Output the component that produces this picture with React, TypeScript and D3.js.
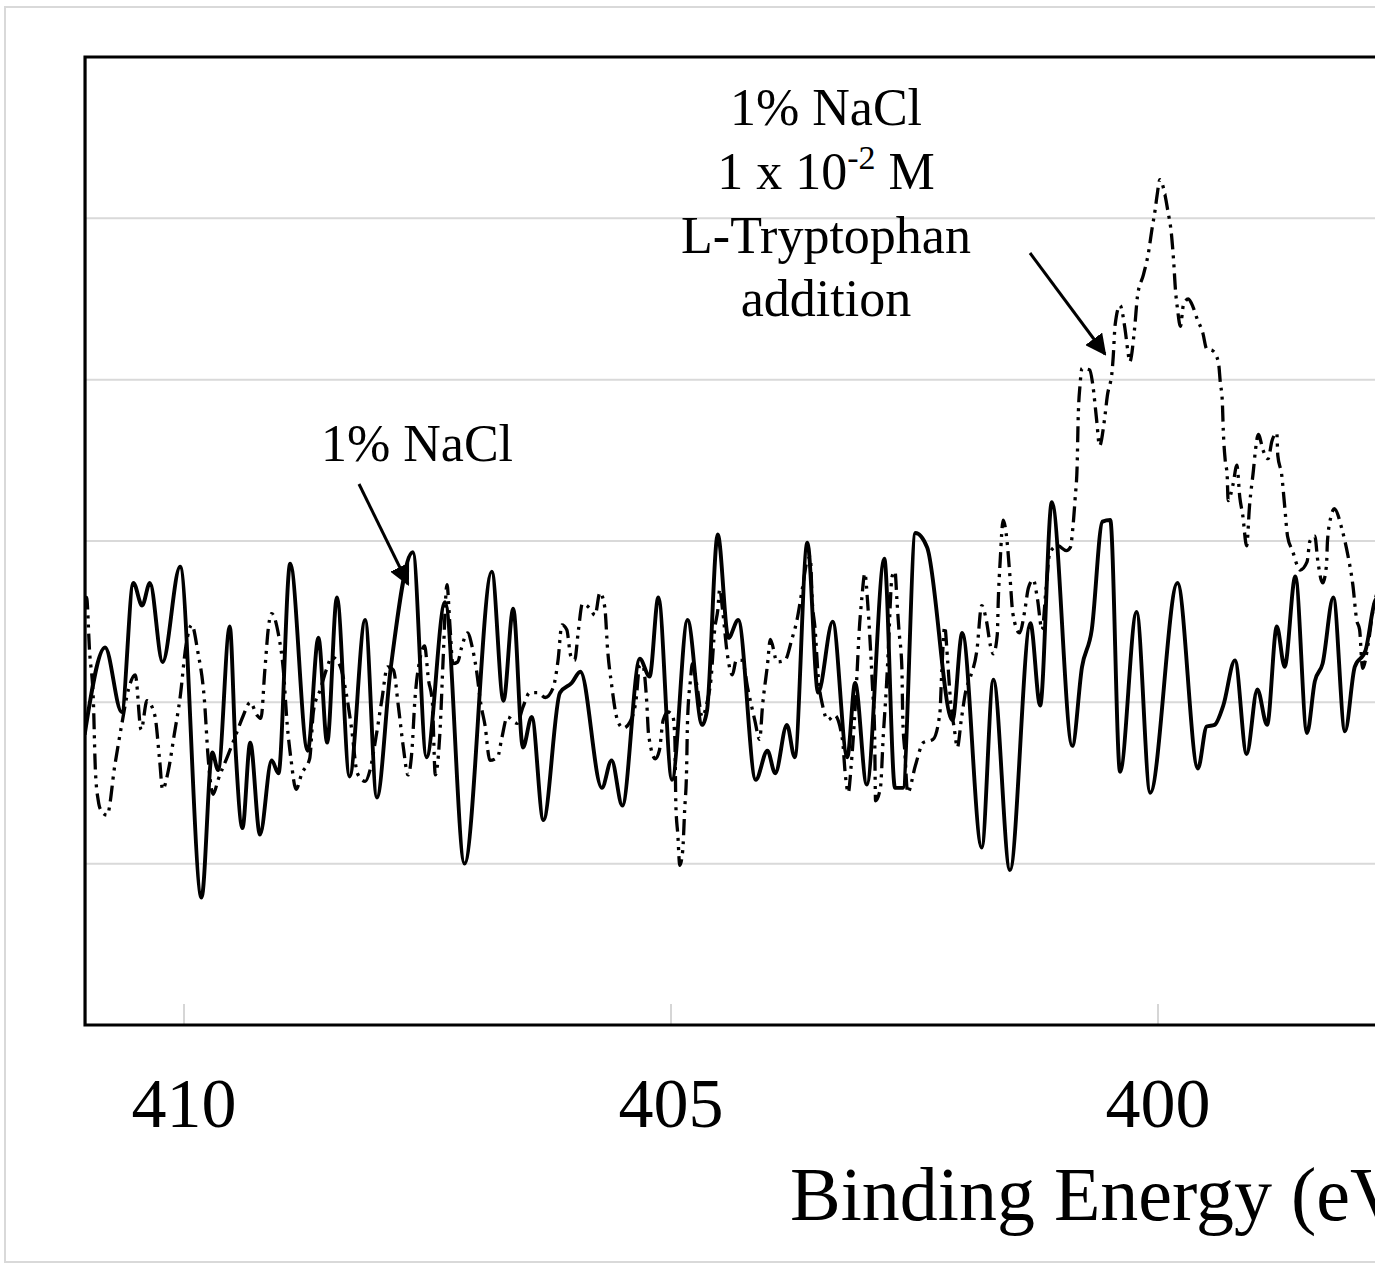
import React from "react";
import * as d3 from "d3";

// ---- Data (Binding energy in eV, intensity in arbitrary units) ----
const tickValues = [410, 405, 400];
const gridValues = [1, 2, 3, 4, 5];

// 1% NaCl (solid line)
const nacl: [number, number][] = [
  [411.02, 1.8], [410.81, 2.34], [410.64, 1.94], [410.52, 2.74], [410.43, 2.6], [410.35, 2.74],
  [410.22, 2.25], [410.04, 2.84], [409.82, 0.79], [409.71, 1.69], [409.65, 1.58], [409.53, 2.47],
  [409.47, 1.7], [409.4, 1.22], [409.32, 1.75], [409.22, 1.18], [409.1, 1.64], [409.03, 1.56],
  [408.91, 2.86], [408.73, 1.7], [408.62, 2.4], [408.53, 1.75], [408.43, 2.65], [408.3, 1.54],
  [408.14, 2.51], [408.02, 1.41], [407.88, 2.2], [407.65, 2.93], [407.51, 1.66], [407.32, 2.62],
  [407.12, 1.0], [406.84, 2.81], [406.72, 2.01], [406.62, 2.58], [406.52, 1.72], [406.43, 1.91],
  [406.31, 1.27], [406.14, 2.06], [406.02, 2.12], [405.93, 2.19], [405.71, 1.47], [405.61, 1.64],
  [405.5, 1.36], [405.32, 2.27], [405.22, 2.16], [405.13, 2.65], [404.99, 1.52], [404.83, 2.51],
  [404.68, 1.86], [404.63, 1.95], [404.52, 3.04], [404.41, 2.4], [404.31, 2.51], [404.13, 1.52],
  [404.01, 1.7], [403.93, 1.56], [403.81, 1.86], [403.73, 1.66], [403.6, 2.99], [403.49, 2.06],
  [403.34, 2.5], [403.19, 1.66], [403.11, 2.12], [402.99, 1.49], [402.81, 2.89], [402.7, 1.47],
  [402.62, 1.47], [402.49, 3.05], [402.37, 2.96], [402.11, 1.89], [402.01, 2.43], [401.81, 1.1],
  [401.69, 2.14], [401.52, 0.96], [401.31, 2.49], [401.21, 1.98], [401.09, 3.24], [400.88, 1.73],
  [400.78, 2.22], [400.68, 2.45], [400.57, 3.12], [400.49, 3.13], [400.39, 1.57], [400.22, 2.56],
  [400.08, 1.44], [399.8, 2.74], [399.59, 1.59], [399.5, 1.85], [399.42, 1.86], [399.33, 1.98],
  [399.21, 2.26], [399.09, 1.68], [398.98, 2.08], [398.88, 1.86], [398.78, 2.47], [398.7, 2.22],
  [398.59, 2.78], [398.47, 1.81], [398.39, 2.13], [398.31, 2.24], [398.2, 2.65], [398.08, 1.82],
  [397.98, 2.22], [397.87, 2.32], [397.77, 2.63], [397.67, 2.69],
];

// 1% NaCl + 1 x 10^-2 M L-Tryptophan (dash-dot-dot line)
const tryptophan: [number, number][] = [
  [411.02, 2.63], [411.0, 2.65], [410.97, 2.32], [410.93, 2.0], [410.91, 1.58], [410.88, 1.39],
  [410.86, 1.34], [410.79, 1.3], [410.71, 1.61], [410.64, 1.86], [410.57, 2.08], [410.5, 2.17],
  [410.44, 1.83], [410.38, 2.01], [410.3, 1.92], [410.25, 1.64], [410.22, 1.46], [410.16, 1.58],
  [410.1, 1.8], [410.04, 2.03], [409.98, 2.35], [409.92, 2.48], [409.86, 2.32], [409.79, 2.01],
  [409.75, 1.64], [409.7, 1.43], [409.65, 1.52], [409.55, 1.67], [409.46, 1.81], [409.39, 1.92],
  [409.32, 2.0], [409.25, 1.92], [409.21, 1.9], [409.17, 2.2], [409.13, 2.48], [409.1, 2.55],
  [409.03, 2.42], [408.98, 2.2], [408.94, 1.86], [408.9, 1.64], [408.85, 1.46], [408.79, 1.56],
  [408.71, 1.65], [408.67, 1.95], [408.6, 2.08], [408.54, 2.2], [408.48, 2.28], [408.4, 2.23],
  [408.33, 2.04], [408.28, 1.84], [408.22, 1.56], [408.14, 1.51], [408.09, 1.58], [408.03, 1.78],
  [407.97, 2.01], [407.91, 2.22], [407.85, 2.2], [407.8, 1.98], [407.75, 1.73], [407.7, 1.55],
  [407.66, 1.7], [407.63, 2.01], [407.58, 2.26], [407.53, 2.35], [407.49, 2.14], [407.45, 2.0],
  [407.42, 1.55], [407.37, 1.84], [407.34, 2.26], [407.3, 2.73], [407.27, 2.48], [407.24, 2.24],
  [407.19, 2.25], [407.15, 2.34], [407.09, 2.43], [407.04, 2.34], [407.0, 2.21], [406.95, 1.98],
  [406.91, 1.86], [406.86, 1.64], [406.78, 1.66], [406.74, 1.77], [406.68, 1.91], [406.58, 1.87],
  [406.52, 1.97], [406.45, 2.06], [406.37, 2.06], [406.29, 2.03], [406.21, 2.09], [406.16, 2.26],
  [406.12, 2.48], [406.07, 2.45], [406.03, 2.29], [405.99, 2.26], [405.95, 2.45], [405.91, 2.61],
  [405.83, 2.58], [405.78, 2.54], [405.73, 2.68], [405.68, 2.59], [405.65, 2.32], [405.61, 2.11],
  [405.55, 1.89], [405.49, 1.84], [405.42, 1.88], [405.36, 2.01], [405.32, 2.23], [405.29, 2.23],
  [405.25, 2.01], [405.23, 1.8], [405.16, 1.65], [405.12, 1.7], [405.08, 1.89], [405.03, 1.94],
  [404.98, 1.91], [404.96, 1.77], [404.95, 1.36], [404.93, 1.18], [404.91, 0.99], [404.88, 1.08],
  [404.86, 1.33], [404.84, 1.58], [404.83, 1.89], [404.8, 2.14], [404.78, 2.24], [404.73, 2.09],
  [404.68, 1.91], [404.63, 2.0], [404.59, 2.14], [404.55, 2.46], [404.52, 2.57], [404.5, 2.7],
  [404.47, 2.57], [404.42, 2.29], [404.37, 2.17], [404.33, 2.26], [404.27, 2.26], [404.21, 2.08],
  [404.14, 1.89], [404.09, 1.77], [404.06, 1.98], [404.01, 2.23], [403.98, 2.39], [403.91, 2.25],
  [403.83, 2.26], [403.76, 2.39], [403.71, 2.5], [403.65, 2.71], [403.6, 2.88], [403.57, 2.9],
  [403.55, 2.63], [403.52, 2.45], [403.49, 2.17], [403.44, 1.97], [403.39, 1.89], [403.32, 1.92],
  [403.24, 1.77], [403.21, 1.55], [403.18, 1.44], [403.15, 1.61], [403.12, 1.86], [403.09, 2.18],
  [403.07, 2.42], [403.04, 2.65], [403.01, 2.8], [402.98, 2.61], [402.96, 2.42], [402.93, 2.08],
  [402.91, 1.83], [402.9, 1.39], [402.85, 1.47], [402.82, 1.8], [402.79, 2.08], [402.77, 2.31],
  [402.73, 2.78], [402.7, 2.81], [402.68, 2.63], [402.66, 2.45], [402.63, 2.22], [402.62, 1.89],
  [402.6, 1.7], [402.57, 1.44], [402.49, 1.61], [402.41, 1.75], [402.31, 1.77], [402.24, 1.93],
  [402.22, 2.19], [402.19, 2.47], [402.16, 2.26], [402.13, 2.01], [402.09, 1.83], [402.06, 1.72],
  [402.02, 1.89], [401.97, 2.08], [401.93, 2.15], [401.86, 2.32], [401.81, 2.6], [401.76, 2.5],
  [401.72, 2.35], [401.69, 2.3], [401.65, 2.42], [401.64, 2.63], [401.62, 2.88], [401.59, 3.13],
  [401.55, 3.0], [401.52, 2.78], [401.49, 2.55], [401.42, 2.43], [401.37, 2.56], [401.33, 2.71],
  [401.28, 2.76], [401.24, 2.65], [401.19, 2.45], [401.15, 2.7], [401.11, 2.93], [401.03, 2.97],
  [400.94, 2.94], [400.9, 2.96], [400.87, 3.11], [400.85, 3.27], [400.83, 3.47], [400.82, 3.75],
  [400.8, 3.97], [400.78, 4.07], [400.7, 4.06], [400.67, 3.97], [400.63, 3.75], [400.6, 3.59],
  [400.55, 3.75], [400.52, 3.9], [400.47, 4.06], [400.46, 4.14], [400.44, 4.34], [400.39, 4.46],
  [400.34, 4.32], [400.31, 4.18], [400.29, 4.11], [400.24, 4.32], [400.21, 4.52], [400.15, 4.65],
  [400.1, 4.78], [400.06, 4.94], [400.03, 5.05], [400.01, 5.14], [399.98, 5.24], [399.93, 5.15],
  [399.9, 5.05], [399.86, 4.89], [399.84, 4.74], [399.82, 4.55], [399.8, 4.44], [399.77, 4.33],
  [399.74, 4.46], [399.69, 4.5], [399.64, 4.45], [399.6, 4.38], [399.54, 4.29], [399.5, 4.19],
  [399.44, 4.18], [399.38, 4.11], [399.36, 3.98], [399.34, 3.87], [399.33, 3.69], [399.31, 3.5],
  [399.29, 3.41], [399.28, 3.25], [399.23, 3.35], [399.19, 3.47], [399.16, 3.27], [399.13, 3.16],
  [399.09, 2.97], [399.06, 3.22], [399.02, 3.44], [399.0, 3.56], [398.97, 3.66], [398.92, 3.56],
  [398.87, 3.51], [398.83, 3.62], [398.78, 3.67], [398.77, 3.53], [398.73, 3.41], [398.7, 3.22],
  [398.67, 3.03], [398.62, 2.94], [398.54, 2.82], [398.47, 2.87], [398.44, 3.0], [398.39, 3.03],
  [398.36, 2.88], [398.31, 2.74], [398.27, 2.85], [398.26, 3.0], [398.22, 3.16], [398.19, 3.2],
  [398.11, 3.07], [398.05, 2.91], [398.0, 2.73], [397.96, 2.51], [397.93, 2.45], [397.9, 2.21],
  [397.84, 2.37], [397.79, 2.58], [397.74, 2.7],
];

const xTitle = "Binding Energy (eV)";
const FONT = "'Liberation Serif', 'Times New Roman', serif";

export default function App() {
  const W = 1375;
  const H = 1263;
  const x = d3.scaleLinear().domain([410, 400]).range([184, 1158]);
  const y = d3.scaleLinear().domain([0, 6]).range([1025, 57]);
  const xLeft = x(411.016);
  const xRight = x(397.0);
  const yTop = y(6);
  const yBot = y(0);

  const line = d3
    .line<[number, number]>()
    .x((d) => x(d[0]))
    .y((d) => y(d[1]))
    .curve(d3.curveMonotoneX);

  return (
    <svg
      width={W}
      height={H}
      style={{ position: "absolute", left: 0, top: 0, background: "#fff" }}
      fontFamily={FONT}
    >
      <defs>
        <clipPath id="plotClip">
          <rect x={xLeft} y={yTop} width={xRight - xLeft} height={yBot - yTop} />
        </clipPath>
        <marker id="arrowHead" viewBox="0 0 10 10" refX="9" refY="5" markerWidth="7" markerHeight="7" orient="auto">
          <path d="M0,0 L10,5 L0,10 z" fill="#000" />
        </marker>
      </defs>
      <rect x={0} y={0} width={W} height={H} fill="#fff" />
      {/* outer chart border */}
      <rect x={5} y={7} width={W + 20} height={H - 8} fill="none" stroke="#d9d9d9" strokeWidth={2} />

      {/* gridlines */}
      {gridValues.map((g) => (
        <line key={g} x1={xLeft} x2={xRight} y1={y(g)} y2={y(g)} stroke="#d9d9d9" strokeWidth={2} />
      ))}

      {/* ticks */}
      {tickValues.map((t) => (
        <line key={t} x1={x(t)} x2={x(t)} y1={yBot} y2={yBot - 21} stroke="#c8c8c8" strokeWidth={1.5} />
      ))}

      <g clipPath="url(#plotClip)">
        <path
          d={line(tryptophan) || ""}
          fill="none"
          stroke="#000"
          strokeWidth={3.3}
          strokeDasharray="16 6 3 6 3 6"
        />
        <path d={line(nacl) || ""} fill="none" stroke="#000" strokeWidth={3.9} strokeLinejoin="round" />
      </g>

      {/* frame */}
      <path
        d={`M${xRight},${yTop} L${xLeft},${yTop} L${xLeft},${yBot} L${xRight},${yBot}`}
        fill="none"
        stroke="#000"
        strokeWidth={3.2}
      />

      {/* tick labels */}
      {tickValues.map((t) => (
        <text key={t} x={x(t)} y={1127} fontSize={70} textAnchor="middle" fill="#000">
          {t}
        </text>
      ))}

      {/* axis title (cut at the right edge, as in the reference) */}
      <text x={790} y={1220} fontSize={76} fill="#000">
        {xTitle}
      </text>

      {/* annotations */}
      <text x={417} y={461} fontSize={52} textAnchor="middle" fill="#000">
        1% NaCl
      </text>
      <line x1={359} y1={484} x2={408} y2={584} stroke="#000" strokeWidth={3} markerEnd="url(#arrowHead)" />

      <text fontSize={52} textAnchor="middle" fill="#000">
        <tspan x={826} y={125}>1% NaCl</tspan>
        <tspan x={826} y={189}>
          1 x 10<tspan fontSize={34} dy={-20}>-2</tspan>
          <tspan dy={20}> M</tspan>
        </tspan>
        <tspan x={826} y={253}>L-Tryptophan</tspan>
        <tspan x={826} y={316}>addition</tspan>
      </text>
      <line x1={1030} y1={253} x2={1105} y2={354} stroke="#000" strokeWidth={3} markerEnd="url(#arrowHead)" />
    </svg>
  );
}
